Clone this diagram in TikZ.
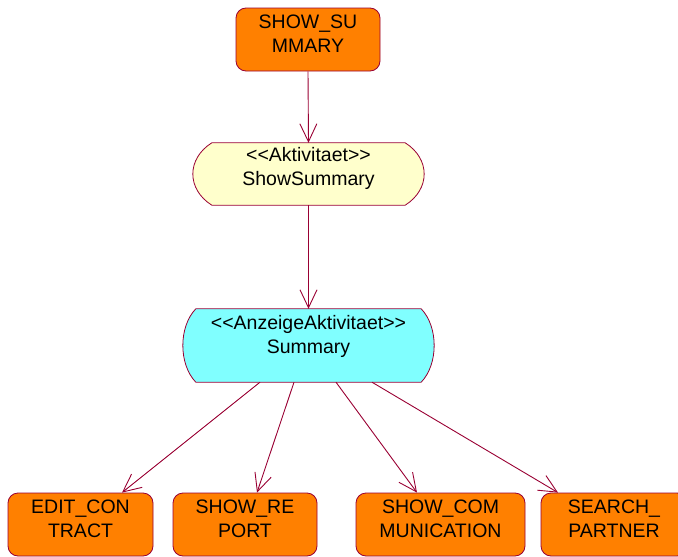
\documentclass[tikz,border=0pt]{standalone}
\usepackage{fontspec}
\setmainfont{Liberation Sans}
\usetikzlibrary{arrows.meta,calc,backgrounds}

\definecolor{edgered}{RGB}{153,0,51}
\definecolor{stateorange}{RGB}{255,128,0}
\definecolor{actyellow}{RGB}{255,255,204}
\definecolor{dispcyan}{RGB}{128,255,255}

\tikzset{
  statebox/.style={draw=edgered, fill=stateorange, rounded corners=10pt,
    line width=0.8pt, minimum height=63pt, inner sep=0pt},
  actframe/.style={draw=none, inner sep=0pt},
  actoutline/.style={draw=edgered, line width=0.8pt},
  caption/.style={font=\fontsize{19.5}{24}\selectfont, align=center,
    inner sep=0pt, anchor=north},
  flow/.style={draw=edgered, line width=0.9pt,
    -{Straight Barb[length=18pt,width=17pt]}},
}

\begin{document}
\begin{tikzpicture}[x=1pt,y=-1pt]
\useasboundingbox (0,0) rectangle (678,557);
\clip (0,0) rectangle (678,557);

% top state
\node[statebox, minimum width=144pt] (showsum) at (308,39.5) {};
\node[caption] (showsumT) at ($(showsum.north)+(0,7.5)$) {SHOW\_SU\\MMARY};

% activity
\node[actframe, minimum width=231pt, minimum height=62pt] (act) at (308.5,174) {};
\node[caption] (actT) at ($(act.north)+(0,4)$) {<{}<Aktivitaet>{}>\\ShowSummary};

% display activity
\node[actframe, minimum width=251pt, minimum height=73pt] (sum) at (308.5,345.5) {};
\node[caption] (sumT) at ($(sum.north)+(0,6)$) {<{}<AnzeigeAktivitaet>{}>\\Summary};

% bottom states
\node[statebox, minimum width=145pt] (ec) at (80.5,524.5) {};
\node[caption] (ecT) at ($(ec.north)+(0,7)$) {EDIT\_CON\\TRACT};
\node[statebox, minimum width=144pt] (sr) at (245,524.5) {};
\node[caption] (srT) at ($(sr.north)+(0,7)$) {SHOW\_RE\\PORT};
\node[statebox, minimum width=169pt] (sc) at (440.5,524.5) {};
\node[caption] (scT) at ($(sc.north)+(0,7)$) {SHOW\_COM\\MUNICATION};
\node[statebox, minimum width=146pt] (sp) at (614,524.5) {};
\node[caption] (spT) at ($(sp.north)+(0,7)$) {SEARCH\_\\PARTNER};

% outlines of the two activity shapes
\begin{scope}[on background layer]
  \filldraw[actoutline, fill=actyellow]
    ($(act.north west)+(19,0)$) -- ($(act.north east)+(-19,0)$)
    .. controls ($(act.north east)+(6.3,16)$) and ($(act.south east)+(6.3,-16)$)
    .. ($(act.south east)+(-19,0)$) -- ($(act.south west)+(19,0)$)
    .. controls ($(act.south west)+(-6.3,-16)$) and ($(act.north west)+(-6.3,16)$)
    .. cycle;
  \filldraw[actoutline, fill=dispcyan]
    ($(sum.north west)+(13,0)$) -- ($(sum.north east)+(-13,0)$)
    .. controls ($(sum.north east)+(4.3,18)$) and ($(sum.south east)+(4.3,-18)$)
    .. ($(sum.south east)+(-13,0)$) -- ($(sum.south west)+(13,0)$)
    .. controls ($(sum.south west)+(-4.3,-18)$) and ($(sum.north west)+(-4.3,18)$)
    .. cycle;
\end{scope}

% transitions
\draw[flow] (showsum.south) -- (act.north);
\draw[flow] (act.south) -- (sum.north);
\draw[flow] ($(sum.south)+(-48.5,0)$) -- ($(ec.north)+(41.5,0)$);
\draw[flow] ($(sum.south)+(-14.5,0)$) -- ($(sr.north)+(12,0)$);
\draw[flow] ($(sum.south)+(27.5,0)$) -- ($(sc.north)+(-23.5,0)$);
\draw[flow] ($(sum.south)+(63.5,0)$) -- ($(sp.north)+(-56,0)$);
\end{tikzpicture}
\end{document}
